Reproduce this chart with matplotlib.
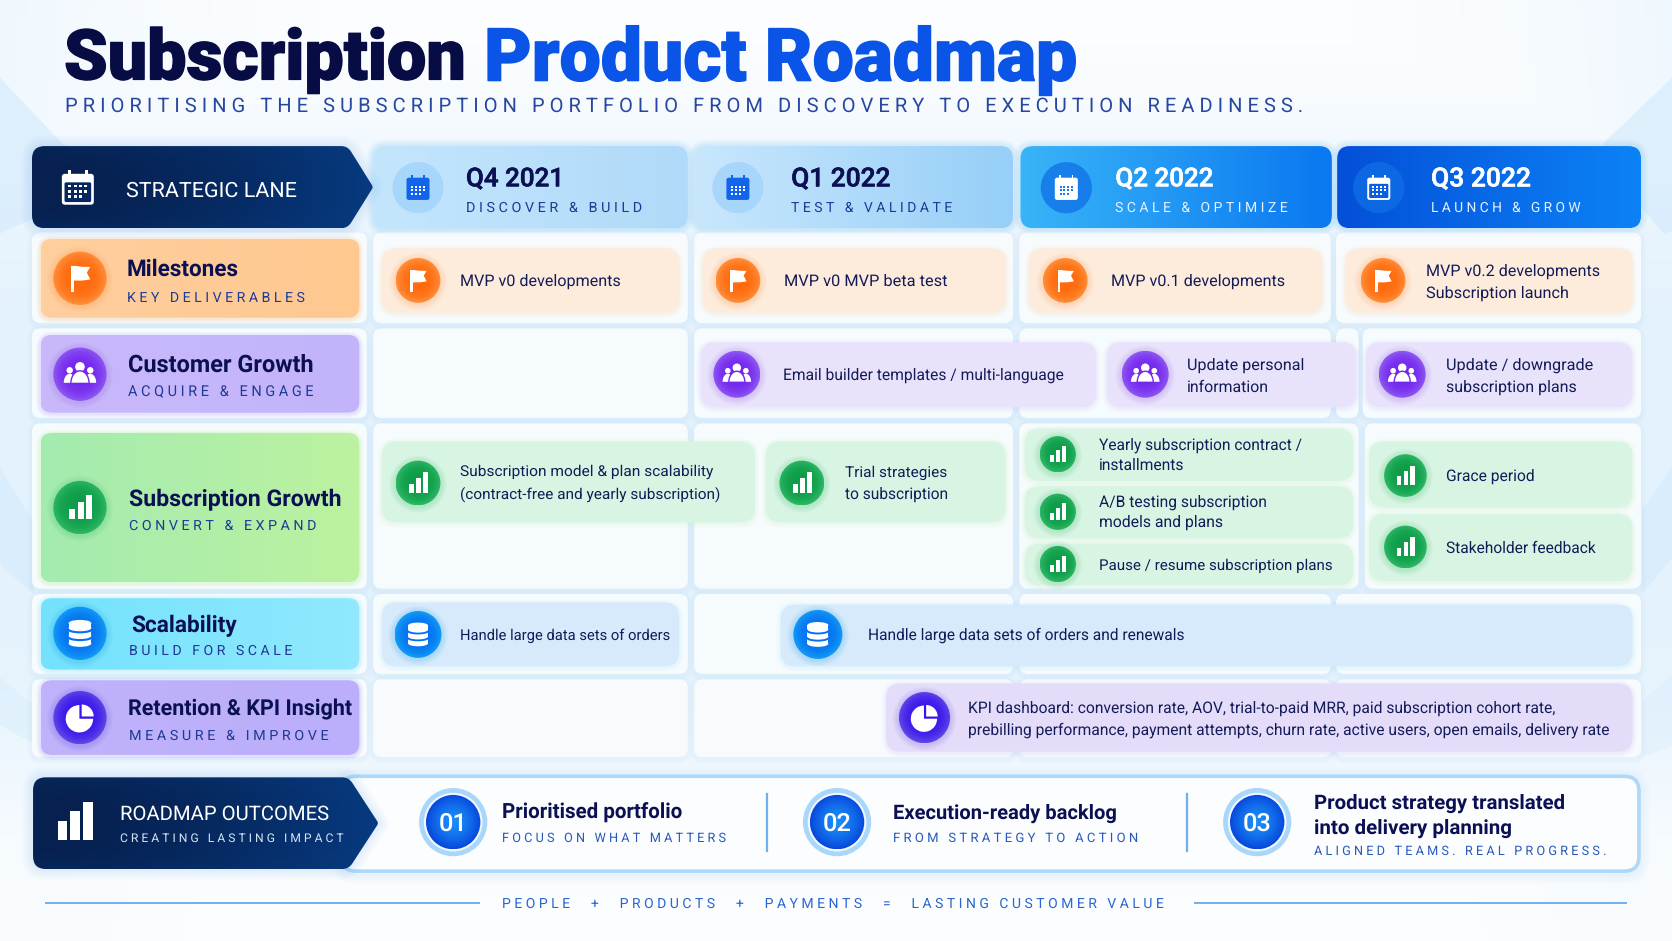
import numpy as np
import matplotlib
matplotlib.use("Agg")
import matplotlib.pyplot as plt
import matplotlib.patheffects as pe
from matplotlib.colors import to_rgb
from matplotlib.patches import FancyBboxPatch, PathPatch, Circle, Ellipse, Wedge, Rectangle, Polygon
from matplotlib.path import Path

plt.rcParams["text.hinting"] = "none"

# ---- text content ----
TITLE_DARK = "Subscription"
TITLE_BLUE = "Product Roadmap"
SUBTITLE = "PRIORITISING THE SUBSCRIPTION PORTFOLIO FROM DISCOVERY TO EXECUTION READINESS."
HEAD_LANE = "STRATEGIC LANE"
QUARTERS = ["Q4 2021", "Q1 2022", "Q2 2022", "Q3 2022"]
PHASES = ["DISCOVER & BUILD", "TEST & VALIDATE", "SCALE & OPTIMIZE", "LAUNCH & GROW"]
LANES = ["Milestones", "Customer Growth", "Subscription Growth", "Scalability", "Retention & KPI Insight"]
LANE_SUBS = ["KEY DELIVERABLES", "ACQUIRE & ENGAGE", "CONVERT & EXPAND", "BUILD FOR SCALE", "MEASURE & IMPROVE"]
LANE_ICONS = ["flag", "people", "bars", "db", "pie"]
CARD_TEXT = [
    [["MVP v0 developments"], ["MVP v0 MVP beta test"], ["MVP v0.1 developments"],
     ["MVP v0.2 developments", "Subscription launch"]],
    [["Email builder templates / multi-language"], ["Update personal", "information"],
     ["Update / downgrade", "subscription plans"]],
    [["Subscription model & plan scalability", "(contract-free and yearly subscription)"],
     ["Trial strategies", "to subscription"],
     ["Yearly subscription contract /", "installments"],
     ["A/B testing subscription", "models and plans"],
     ["Pause / resume subscription plans"],
     ["Grace period"], ["Stakeholder feedback"]],
    [["Handle large data sets of orders"], ["Handle large data sets of orders and renewals"]],
    [["KPI dashboard: conversion rate, AOV, trial-to-paid MRR, paid subscription cohort rate,",
      "prebilling performance, payment attempts, churn rate, active users, open emails, delivery rate"]],
]
OUT_HEAD = "ROADMAP OUTCOMES"
OUT_SUB = "CREATING LASTING IMPACT"
OUT_NUMS = ["01", "02", "03"]
OUT_TITLES = [["Prioritised portfolio"], ["Execution-ready backlog"],
              ["Product strategy translated", "into delivery planning"]]
OUT_SUBS = ["FOCUS ON WHAT MATTERS", "FROM STRATEGY TO ACTION", "ALIGNED TEAMS. REAL PROGRESS."]
FOOTER = "PEOPLE  +  PRODUCTS  +  PAYMENTS  =  LASTING CUSTOMER VALUE"

# ---- layout (pixels of a 1568 wide canvas) ----
W, H = 1568, 882.5
S = 1672 / W
ROW_Y = [(218, 303), (308, 392), (397, 552), (557, 632), (637, 710)]
ROW_COLS = [
    [(30, 344), (350, 645), (651, 950), (956, 1248), (1253, 1539)],
    [(30, 344), (350, 645), (651, 950), (956, 1248), (1253, 1274), (1278, 1539)],
    [(30, 344), (350, 645), (651, 950), (956, 1274), (1280, 1539)],
    [(30, 344), (350, 645), (651, 950), (956, 1248), (1253, 1539)],
    [(30, 344), (350, 645), (651, 950), (956, 1248), (1253, 1539)],
]
HEAD_BOX = [(350, 645), (651, 950), (957, 1249), (1254, 1539)]
HEAD_GRAD = [("#c4e6fd", "#b0daf9"), ("#c8e7fd", "#97cff8"), ("#38b4f8", "#0a78f0"), ("#0450d8", "#0c82f6")]
HEAD_ICON_X = [392, 692, 1000, 1293]
HEAD_TEXT_X = [(437, 529), (742, 835), (1046, 1138), (1342, 1436)]
HEAD_SUB_X = [(437, 602), (742, 893), (1046, 1207), (1342, 1482)]
LANE_Y = [(224, 298), (314, 387), (406, 546), (561, 628), (638, 708)]
LANE_GRAD = [("#ffcf9f", "#fec88f"), ("#c9b9fb", "#c3b3fa"), ("#a4ebb0", "#bcf2a0"),
             ("#74e2fd", "#90e9fd"), ("#c0b2fb", "#bbaefa")]
LANE_IC_Y = [261, 351, 476, 594, 673]
LANE_T = [(119, 224, 251), (120, 294, 341), (121, 320, 466), (123, 222, 585), (120, 330, 664)]
LANE_S = [(119, 286, 278), (120, 294, 367), (121, 297, 492), (121, 275, 609), (121, 308, 689)]
CARD_FILL = ["#fdebdc", "#e9e2fb", "#d8f5e3", "#d6eafb", "#e5dcfa"]
# x0, x1, y0, y1, icon x, icon y, icon r, text x, per-line right edge, per-line y
CARD_BOX = [
    [(358, 637, 233, 293, 392, 263, 21, 431, [582], [263]),
     (659, 943, 233, 293, 692, 263, 21, 735, [889], [263]),
     (965, 1240, 233, 293, 999, 263, 21, 1042, [1205], [263]),
     (1262, 1531, 233, 293, 1297, 263, 21, 1337, [1500, 1471], [253, 274])],
    [(657, 1028, 321, 382, 691, 351, 22, 734, [997], [351]),
     (1038, 1272, 321, 382, 1074, 351, 22, 1113, [1223, 1190], [341, 362]),
     (1281, 1531, 321, 382, 1315, 351, 22, 1356, [1494, 1479], [341, 362])],
    [(358, 708, 414, 490, 392, 453, 21, 431, [667, 675], [441, 462]),
     (718, 943, 414, 490, 752, 453, 21, 792, [888, 889], [442, 463]),
     (961, 1269, 402, 451, 992, 426, 17, 1031, [1222, 1111], [416, 435]),
     (961, 1269, 456, 505, 992, 480, 17, 1031, [1189, 1147], [470, 489]),
     (961, 1269, 510, 549, 992, 529, 17, 1031, [1251], [529]),
     (1284, 1531, 414, 476, 1318, 446, 20, 1356, [1439], [446]),
     (1284, 1531, 482, 545, 1318, 513, 20, 1356, [1497], [513])],
    [(358, 637, 565, 625, 392, 595, 22, 431, [628], [595]),
     (732, 1531, 567, 625, 767, 595, 23, 814, [1112], [595])],
    [(831, 1531, 641, 705, 867, 673, 24, 908, [1456, 1510], [663, 684])],
]
# centre colour, rim colour
ICON_GRAD = {"flag": ("#ff6a0c", "#ff8f3c"), "people": ("#7426ee", "#8e58f2"), "bars": ("#0d9c48", "#2db765"),
             "db": ("#0570f0", "#129cf6"), "pie": ("#3a12ee", "#5f48e6")}
OUT_X = [425, 785, 1179]
OUT_T = [[(471, 640, 761)], [(837, 1047, 761)], [(1232, 1467, 752), (1232, 1418, 775)]]
OUT_S = [(471, 681, 785), (837, 1067, 785), (1232, 1506, 797)]
OUT_DIV = [719, 1113]

NAVY = "#0a1052"
MIDBLUE = "#1f3a94"
BODY = "Roboto"
HEAD = "Roboto"

fig = plt.figure(figsize=(16.72, 9.41), dpi=100)
ax = fig.add_axes([0, 0, 1, 1])
ax.axis("off")
rend = fig.canvas.get_renderer()


def blend(c0, c1, t):
    c0, c1 = np.array(to_rgb(c0)), np.array(to_rgb(c1))
    return c0 + (c1 - c0) * t[..., None]


def rbox(x0, y0, x1, y1, r=12, z=1, **kw):
    kw.setdefault("lw", 0)
    p = FancyBboxPatch((x0, y0), x1 - x0, y1 - y0, boxstyle=f"round,pad=0,rounding_size={r}", zorder=z, **kw)
    ax.add_patch(p)
    return p


def glow(x0, y0, x1, y1, r=12, z=1, color="#5aa9ee", n=6, step=2.0, a=0.018, dy=2):
    for i in range(n, 0, -1):
        d = i * step
        rbox(x0 - d, y0 - d + dy, x1 + d, y1 + d + dy, r + d, z, fc=color, alpha=a)


def fill_grad(clip, extent, c0, c1, z):
    gx = np.linspace(0, 1, 48)
    t = np.tile(gx[None, :], (48, 1))
    im = ax.imshow(blend(c0, c1, t), extent=extent, origin="upper", aspect="auto", zorder=z, interpolation="bilinear")
    im.set_clip_path(clip)


def grad_box(x0, y0, x1, y1, c0, c1, r=12, z=2):
    p = rbox(x0, y0, x1, y1, r, z, fc="none")
    fill_grad(p, (x0, x1, y1, y0), c0, c1, z)


def round_poly(pts, radii):
    verts, codes = [], []
    n = len(pts)
    for i in range(n):
        p = np.array(pts[i], float)
        a = np.array(pts[i - 1], float)
        b = np.array(pts[(i + 1) % n], float)
        r = radii[i]
        p0 = p + (a - p) / np.linalg.norm(a - p) * r
        p1 = p + (b - p) / np.linalg.norm(b - p) * r
        verts += [p0, p, p1]
        codes += [Path.LINETO if i else Path.MOVETO, Path.CURVE3, Path.CURVE3]
    verts.append(verts[0])
    codes.append(Path.CLOSEPOLY)
    return Path(verts, codes)


def dark_arrow(x0, x1, xs, y0, y1, z=5):
    path = round_poly([(x0, y0), (xs, y0), (x1, (y0 + y1) / 2), (xs, y1), (x0, y1)], [12, 6, 2, 6, 12])
    for i in range(5, 0, -1):
        ax.add_patch(PathPatch(path, fc="none", ec="#3d8fe0", lw=i * 3, alpha=0.025, zorder=z - 1))
    p = PathPatch(path, fc="none", lw=0, zorder=z)
    ax.add_patch(p)
    xx, yy = np.meshgrid(np.linspace(0, 1, 96), np.linspace(0, 1, 48))
    base = blend("#06204f", "#073a80", xx ** 1.6)
    edge = (np.abs(yy - 0.5) * 2)[..., None] ** 3 * 0.18
    base = base * (1 - edge) + np.array(to_rgb("#0b3f86")) * edge
    im = ax.imshow(base, extent=(x0, x1, y1, y0), origin="upper", aspect="auto", zorder=z)
    im.set_clip_path(p)


def put(x0, x1, yc, s, color=NAVY, weight="normal", family=BODY, z=20, stroke=0):
    t = ax.text(x0, yc, s, color=color, fontweight=weight, family=[family, "DejaVu Sans"], fontsize=12,
                ha="left", va="baseline", zorder=z)
    fs = 12
    for _ in range(2):
        w = t.get_window_extent(rend).width / S
        fs *= (x1 - x0) / w
        t.set_fontsize(fs)
    px = fs * 100 / 72 / S
    t.set_y(yc + 0.358 * px)
    if stroke:
        t.set_path_effects([pe.withStroke(linewidth=stroke, foreground=color)])
    return t


def spaced(s, gap=3):
    # wide tracking: plain spaces between the letters, wider between the words
    return (" " * gap).join(" ".join(w) for w in s.split(" "))


def ic_flag(x, y, u, c, z):
    ax.add_patch(Rectangle((x - 8 * u, y - 11 * u), 2.4 * u, 23 * u, fc=c, lw=0, zorder=z))
    ax.add_patch(Polygon([(x - 6 * u, y - 11 * u), (x + 3 * u, y - 10 * u), (x + 9 * u, y - 10 * u),
                          (x + 6 * u, y - 5 * u), (x + 9 * u, y + 1 * u), (x + 2 * u, y + 2 * u),
                          (x - 6 * u, y + 2 * u)], closed=True, fc=c, lw=0, zorder=z))


def body_shape(x, base, hw, h):
    th = np.linspace(np.pi, 2 * np.pi, 24)
    pts = np.column_stack([x + hw * np.cos(th), base + h * np.sin(th)])
    return pts


def ic_people(x, y, u, c, back, z):
    for dx in (-9, 9):
        ax.add_patch(Circle((x + dx * u, y - 3.5 * u), 2.8 * u, fc=c, lw=0, zorder=z))
        ax.add_patch(Polygon(body_shape(x + dx * u, y + 7.5 * u, 5.2 * u, 8 * u), closed=True, fc=c, lw=0, zorder=z))
    ax.add_patch(Circle((x, y - 6.5 * u), 4.2 * u, fc=c, lw=0, zorder=z + 0.1))
    ax.add_patch(Polygon(body_shape(x, y + 8 * u, 8 * u, 11 * u), closed=True, fc=c, ec=back, lw=1.0, zorder=z + 0.1))


def ic_bars(x, y, u, c, z):
    for dx, h in [(-9.5, 9), (-2, 15), (5.5, 21)]:
        ax.add_patch(Rectangle((x + dx * u, y + 10 * u - h * u), 5.2 * u, h * u, fc=c, lw=0, zorder=z))


def ic_db(x, y, u, c, back, z):
    for k, dy in enumerate((6.5, 0, -6.5)):
        zk = z + k * 0.02
        ax.add_patch(Ellipse((x, y + (dy + 2) * u), 19 * u, 5.5 * u, fc=c, lw=0, zorder=zk))
        ax.add_patch(Rectangle((x - 9.5 * u, y + (dy - 2) * u), 19 * u, 4 * u, fc=c, lw=0, zorder=zk))
        ax.add_patch(Ellipse((x, y + (dy - 2) * u), 19 * u, 5.5 * u, fc=c, lw=0, zorder=zk))
        if k < 2:
            ax.add_patch(Ellipse((x, y + (dy - 3) * u), 21 * u, 6 * u, fc=back, lw=0, zorder=zk + 0.01))


def ic_pie(x, y, u, c, z):
    ax.add_patch(Wedge((x - 0.5 * u, y + 1 * u), 12 * u, 0, 270, fc=c, lw=0, zorder=z))
    ax.add_patch(Wedge((x + 1.5 * u, y - 1 * u), 10.5 * u, 270, 360, fc=c, lw=0, zorder=z))


def ic_cal(x, y, u, frame, grid, inner, z):
    rbox(x - 15 * u, y - 13 * u, x + 15 * u, y + 16 * u, 3 * u, z, fc=frame)
    if inner is not None:
        rbox(x - 12.5 * u, y - 5 * u, x + 12.5 * u, y + 13.5 * u, 1.5 * u, z + 0.1, fc=inner)
    for dx in (-8, 8):
        ax.add_patch(Rectangle((x + dx * u - 1.2 * u, y - 17 * u), 2.4 * u, 7 * u, fc=frame, lw=0, zorder=z + 0.2))
    for i, dy in enumerate((-1.5, 3.5, 8.5)):
        for dx in (-7.5, -2.5, 2.5, 7.5):
            if i == 2 and dx > 3:
                continue
            ax.add_patch(Rectangle((x + dx * u - 1.3 * u, y + dy * u - 1.3 * u), 2.6 * u, 2.6 * u,
                                   fc=grid, lw=0, zorder=z + 0.3))


def badge(x, y, r, kind, z=10):
    c0, c1 = ICON_GRAD[kind]
    for i in range(6, 0, -1):
        ax.add_patch(Circle((x, y + 1), r + i * 1.0, fc=c1, alpha=0.035, lw=0, zorder=z - 0.5))
    disc = Circle((x, y), r, fc="none", lw=0, zorder=z)
    ax.add_patch(disc)
    g = np.linspace(-1, 1, 64)
    xx, yy = np.meshgrid(g, g)
    rr = np.clip(np.hypot(xx, yy), 0, 1)
    im = ax.imshow(blend(c0, c1, rr ** 3), extent=(x - r, x + r, y + r, y - r), origin="upper", aspect="auto", zorder=z)
    im.set_clip_path(disc)
    zi = z + 1
    u = r / 24.5
    if kind == "flag":
        ic_flag(x, y, u * 1.05, "white", zi)
    elif kind == "people":
        ic_people(x, y, u * 1.05, "white", c0, zi)
    elif kind == "bars":
        ic_bars(x, y, u * 1.05, "white", zi)
    elif kind == "db":
        ic_db(x, y, u * 1.1, "white", c0, zi)
    else:
        ic_pie(x, y, u * 1.05, "white", zi)


# ---- background ----
gx, gy = np.meshgrid(np.linspace(0, 1, 300), np.linspace(0, 1, 170))
band = np.exp(-((gy - 0.50) / 0.36) ** 4) * 0.85
edge = np.clip(np.abs(gx - 0.5) * 2, 0, 1) ** 4 * 0.45
bg = blend("#fdfeff", "#dff0fd", np.clip(np.maximum(band, edge * (1 - 0.6 * gy)), 0, 1))
ax.imshow(bg, extent=(0, W, H, 0), origin="upper", aspect="auto", zorder=0)
BG_SHAPES = [
    ([(0, 73), (59, 135), (100, 160), (31, 205), (0, 219)], "#cfe8fc", 0.55),
    ([(0, 439), (31, 488), (31, 557), (0, 529)], "#cfe8fc", 0.45),
    ([(0, 635), (36, 665), (36, 700), (0, 680)], "#cfe8fc", 0.30),
    ([(1503, 135), (W, 73), (W, 217), (1560, 219), (1541, 197)], "#cfe8fc", 0.55),
    ([(1540, 478), (W, 439), (W, 523), (1540, 557)], "#cfe8fc", 0.45),
    ([(1540, 658), (W, 633), (W, 700), (1540, 710)], "#cfe8fc", 0.25),
]
for pts, col, alpha in BG_SHAPES:
    ax.add_patch(Polygon(pts, closed=True, fc=col, alpha=alpha, lw=0, zorder=0.5))

# ---- title ----
put(60, 437, 51, TITLE_DARK, "#080c45", 900, HEAD, stroke=1.0)
put(454, 1010, 51, TITLE_BLUE, "#0a55e8", 900, HEAD, stroke=1.0)
put(61, 1224, 98, spaced(SUBTITLE), "#28479f", "normal", HEAD)

# ---- grid cells ----
for (y0, y1), cols in zip(ROW_Y, ROW_COLS):
    for x0, x1 in cols:
        glow(x0, y0, x1, y1, 8, 1, n=3, step=1.5, a=0.02)
        rbox(x0, y0, x1, y1, 8, 1.5, fc="#fafdff", alpha=0.9)

# ---- header row ----
dark_arrow(30, 350, 326, 137, 214)
ic_cal(73, 176, 1.0, "white", "white", "#07285e", 8)
put(118, 278, 177, HEAD_LANE, "white", "normal", HEAD)
for i, q in enumerate(QUARTERS):
    x0, x1 = HEAD_BOX[i]
    c0, c1 = HEAD_GRAD[i]
    glow(x0, 137, x1, 214, 12, 1.8, color="#4fb4f5", n=4, step=1.5, a=0.05, dy=0)
    grad_box(x0, 137, x1, 214, c0, c1, 12, 2)
    ix = HEAD_ICON_X[i]
    light = i < 2
    ax.add_patch(Circle((ix, 176), 24, fc="#a5d5fb" if light else "#0f6fe6", alpha=0.9 if light else 0.75, lw=0, zorder=3))
    if light:
        ic_cal(ix, 176, 0.72, "#1264ea", "white", None, 4)
    elif i == 2:
        ic_cal(ix, 176, 0.72, "white", "#1b7af0", None, 4)
    else:
        ic_cal(ix, 176, 0.72, "white", "white", "#0a5fe0", 4)
    col = NAVY if light else "white"
    sub = MIDBLUE if light else "#e4f1ff"
    put(HEAD_TEXT_X[i][0], HEAD_TEXT_X[i][1], 166, q, col, 500, HEAD, stroke=0.4)
    put(HEAD_SUB_X[i][0], HEAD_SUB_X[i][1], 194, spaced(PHASES[i]), sub, "normal", HEAD)

# ---- lane labels and cards ----
for i, name in enumerate(LANES):
    y0, y1 = LANE_Y[i]
    glow(38, y0, 337, y1, 11, 1.8, color=LANE_GRAD[i][1], n=3, step=1.2, a=0.12, dy=1)
    grad_box(38, y0, 337, y1, LANE_GRAD[i][0], LANE_GRAD[i][1], 11, 2)
    badge(75, LANE_IC_Y[i], 25, LANE_ICONS[i])
    tx0, tx1, ty = LANE_T[i]
    put(tx0, tx1, ty, name, NAVY, "bold", HEAD)
    sx0, sx1, sy = LANE_S[i]
    put(sx0, sx1, sy, spaced(LANE_SUBS[i]), MIDBLUE, "normal", HEAD)
    for box, lines in zip(CARD_BOX[i], CARD_TEXT[i]):
        x0, x1, cy0, cy1, ix, iy, ir, tx, rights, ys = box
        glow(x0, cy0, x1, cy1, 14, 2.5, color=LANE_GRAD[i][1], n=3, step=1.2, a=0.06, dy=1)
        rbox(x0, cy0, x1, cy1, 14, 3, fc=CARD_FILL[i])
        badge(ix, iy, ir, LANE_ICONS[i])
        for line, rx, ly in zip(lines, rights, ys):
            put(tx, rx, ly, line, "#131c58", "normal", BODY)

# ---- outcomes strip ----
glow(320, 728, 1537, 817, 14, 1, n=5, step=2, a=0.02)
rbox(320, 728, 1537, 817, 14, 1.5, fc="#fbfdff", ec="#aed8fa", lw=2.6)
dark_arrow(31, 355, 327, 729, 815)
for dx, h in [(-16, 18), (-4, 27), (8, 36)]:
    ax.add_patch(Rectangle((70 + dx, 788 - h), 9, h, fc="white", lw=0, zorder=8))
put(113, 309, 762, OUT_HEAD, "white", "normal", HEAD)
put(113, 323, 785, spaced(OUT_SUB), "#d6e4f5", "normal", HEAD)
for i, num in enumerate(OUT_NUMS):
    cx = OUT_X[i]
    ax.add_patch(Circle((cx, 771), 32, fc="#a9d6fb", lw=0, zorder=3))
    ax.add_patch(Circle((cx, 771), 27.5, fc="#f0f8ff", lw=0, zorder=3.1))
    disc = Circle((cx, 771), 25.5, fc="none", lw=0, zorder=3.2)
    ax.add_patch(disc)
    g = np.linspace(-1, 1, 64)
    xx, yy = np.meshgrid(g, g)
    im = ax.imshow(blend("#1a8cf8", "#0748dc", np.clip(np.hypot(xx, yy), 0, 1) ** 1.5),
                   extent=(cx - 25.5, cx + 25.5, 796.5, 745.5), origin="upper", aspect="auto", zorder=3.2)
    im.set_clip_path(disc)
    put(cx - 13.5, cx + 13.5, 771, num, "white", 500, HEAD)
    for line, (tx0, tx1, ty) in zip(OUT_TITLES[i], OUT_T[i]):
        put(tx0, tx1, ty, line, NAVY, "bold", HEAD)
    sx0, sx1, sy = OUT_S[i]
    put(sx0, sx1, sy, spaced(OUT_SUBS[i]), "#2a5ab8", "normal", HEAD)
for xd in OUT_DIV:
    ax.plot([xd, xd], [745, 798], color="#6fb0ee", lw=1.6, zorder=3)

# ---- footer ----
ax.plot([43, 449], [847, 847], color="#72aef0", lw=1.4, zorder=3)
ax.plot([1121, 1525], [847, 847], color="#72aef0", lw=1.4, zorder=3)
put(471, 1088, 847, (" " * 6).join(spaced(seg) for seg in FOOTER.split("  ")), "#2a66d0", "normal", HEAD)

ax.set_xlim(0, W)
ax.set_ylim(H, 0)
fig.savefig("out.png", dpi=100)
plt.close(fig)
